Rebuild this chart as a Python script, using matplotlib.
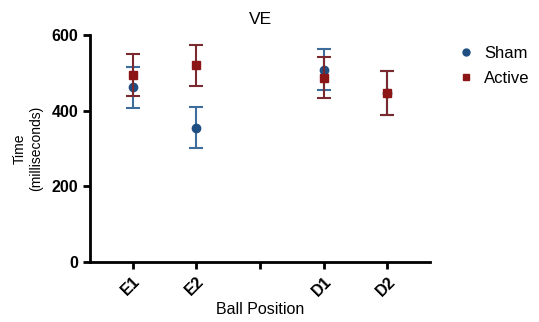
import numpy as np
import matplotlib.pyplot as plt
from matplotlib.lines import Line2D

plt.rcParams['font.family'] = ['Liberation Sans', 'DejaVu Sans']

positions = ["E1", "E2", "", "D1", "D2"]
x_sham = [1, 2, 4, 5]
sham_mean = [462, 355, 509, 446]
sham_err = [54, 54, 53, 58]
x_active = [1, 2, 4, 5]
active_mean = [494, 520, 487, 446]
active_err = [55, 54, 54, 58]

sham_col = "#1f4f82"
active_col = "#8c1616"

fig = plt.figure(figsize=(5.39, 3.22), dpi=100)
ax = fig.add_axes([0.167, 0.186, 0.631, 0.705])

ax.errorbar(x_sham, sham_mean, yerr=sham_err, fmt="o", color=sham_col,
            ecolor="#3d6d9c", elinewidth=1.5, capsize=5, capthick=1.5,
            markersize=6, zorder=3)
ax.errorbar(x_active, active_mean, yerr=active_err, fmt="s", color=active_col,
            ecolor="#7a2a2e", elinewidth=1.5, capsize=5, capthick=1.5,
            markersize=6, zorder=4)

ax.set_xlim(0.33, 5.67)
ax.set_ylim(0, 600)
ax.set_yticks([0, 200, 400, 600])
ax.set_xticks(np.arange(1, len(positions) + 1))
ax.set_xticklabels(positions, rotation=45, ha="right", rotation_mode="anchor",
                   fontsize=11.5, fontweight="bold")
for lbl in ax.get_yticklabels():
    lbl.set_fontweight("bold")
    lbl.set_fontsize(11.5)

for s in ["top", "right"]:
    ax.spines[s].set_visible(False)
for s in ["left", "bottom"]:
    ax.spines[s].set_linewidth(2)
ax.tick_params(width=2, length=5, direction="out")

ax.set_xlabel("Ball Position", fontsize=11.5, labelpad=2)
ax.set_ylabel("Time\n(milliseconds)", fontsize=10, labelpad=6)
ax.set_title("VE", fontsize=12.5, pad=8)

handles = [
    Line2D([], [], marker="o", linestyle="none", color=sham_col, markersize=5),
    Line2D([], [], marker="s", linestyle="none", color=active_col, markersize=5),
]
ax.legend(handles, ["Sham", "Active"], loc="upper left",
          bbox_to_anchor=(1.06, 0.98), frameon=False, fontsize=12,
          handletextpad=0.6, borderaxespad=0, handlelength=1.0,
          labelspacing=0.6)

fig.savefig("out.png", dpi=100)
